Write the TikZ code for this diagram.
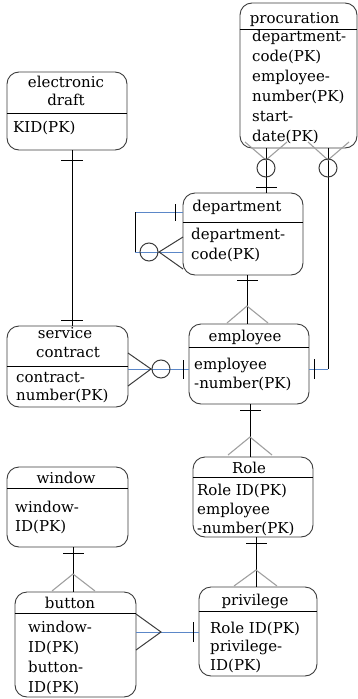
\documentclass[tikz,border=0pt]{standalone}
\usepackage{fontspec}
\setmainfont{DejaVu Serif}
\newfontfamily\erfamily{DejaVu Serif}
\newcommand\erfont{\erfamily\fontsize{15}{20}\selectfont}
\definecolor{boxgray}{HTML}{3C3C3C}
\definecolor{footgray}{HTML}{A0A0A0}
\definecolor{linkblue}{HTML}{5B87C8}

% entity box: name, x1, y1, x2, y2, y of the header rule
\newcommand\erbox[6]{%
  \node[entity, minimum width={#4-#2}, minimum height={#5-#3}] (#1) at ({(#2+#4)/2},{(#3+#5)/2}) {};
  \draw[hline] (#1.west |- 0,#6) -- (#1.east |- 0,#6);
}
% attribute lines: name, x, first baseline, line step, list
\newcommand\erattrs[5]{%
  \foreach \t [count=\i from 0] in {#5}
    \node[attr] (#1-a\i) at (#2,{#3+#4*\i}) {\t};
}

\begin{document}
\begin{tikzpicture}[x=1pt,y=-1pt,
  entity/.style={draw=boxgray, line width=0.9pt, rounded corners=12pt, inner sep=0pt},
  hline/.style={draw=black, line width=0.9pt},
  txt/.style={font=\erfont, inner sep=0pt},
  head/.style={txt, anchor=base},
  attr/.style={txt, anchor=base west},
  conn/.style={draw=black, line width=0.9pt},
  link/.style={draw=linkblue, line width=1pt},
  foot/.style={draw=footgray, line width=1.1pt},
  darkfoot/.style={draw=boxgray, line width=1pt},
  opt/.style={draw=boxgray, line width=1pt}
]
\useasboundingbox (0,0) rectangle (358,699);

% ---------- entities ----------
\erbox{proc}{240}{3}{357}{148}{29}
\node[head] (proc-h) at (294.5,23) {procuration};
\erattrs{proc}{252}{41}{20}{department-,code(PK),employee-,number(PK),start-,date(PK)}

\erbox{edraft}{7}{72}{127}{150}{113}
\node[head] (edraft-h1) at (66,87) {electronic};
\node[head] (edraft-h2) at (66,105) {draft};
\erattrs{edraft}{13}{132}{20}{KID(PK)}

\erbox{dept}{183}{193}{303}{275}{222}
\node[head] (dept-h) at (237,211) {department};
\erattrs{dept}{191}{239}{20.5}{department-,code(PK)}

\erbox{sc}{7}{326}{128}{407}{366}
\node[head] (sc-h1) at (65,338) {service};
\node[head] (sc-h2) at (68,357) {contract};
\erattrs{sc}{16}{382}{18.5}{contract-,number(PK)}

\erbox{emp}{189}{324}{309}{404}{347}
\node[head] (emp-h) at (245,341) {employee};
\erattrs{emp}{194}{369}{19}{employee,-number(PK)}

\erbox{role}{193}{457}{313}{537}{477}
\node[head] (role-h) at (249,473) {Role};
\erattrs{role}{197}{495}{19}{Role ID(PK),employee,-number(PK)}

\erbox{win}{7}{467}{128}{547}{488}
\node[head] (win-h) at (66,483) {window};
\erattrs{win}{15}{512}{19}{window-,ID(PK)}

\erbox{btn}{15}{592}{136}{697}{613}
\node[head] (btn-h) at (70,608) {button};
\erattrs{btn}{28}{632}{20}{window-,ID(PK),button-,ID(PK)}

\erbox{priv}{199}{587}{317}{676}{611}
\node[head] (priv-h) at (255,605) {privilege};
\erattrs{priv}{210}{633}{18.5}{Role ID(PK),privilege-,ID(PK)}

% ---------- relationships ----------
% procuration -- department
\draw[conn] (proc.south -| 266,0) -- (dept.north -| 266,0);
\draw[foot] (245,142) -- (266,160) -- (287,142);
\draw[opt] (266,168) circle (9);
\draw[conn] (256,187) -- (277,187);

% procuration -- employee
\draw[conn] (proc.south -| 328,0) -- (328,369);
\draw[link] (328,369) -- (emp.east |- 0,369);
\draw[foot] (308,142) -- (328,160) -- (349,142);
\draw[opt] (328,168) circle (9);
\draw[conn] (314,359) -- (314,379);

% electronic draft -- service contract
\draw[conn] (edraft.south -| 72,0) -- (sc.north -| 72,0);
\draw[conn] (61,160) -- (83,160);
\draw[conn] (61,320) -- (83,320);

% department -- department
\draw[link] (dept.west |- 0,212) -- (135,212);
\draw[conn] (135,212) -- (135,252);
\draw[link] (135,252) -- (dept.west |- 0,252);
\draw[conn] (175,204) -- (175,221);
\draw[darkfoot] (183,237) -- (159,252) -- (183,269);
\draw[opt] (149,252) circle (9);

% department -- employee
\draw[conn] (dept.south -| 247,0) -- (emp.north -| 247,0);
\draw[conn] (237,280) -- (258,280);
\draw[foot] (227,323) -- (247,306) -- (268,323);

% service contract -- employee
\draw[link] (sc.east |- 0,369) -- (emp.west |- 0,369);
\draw[darkfoot] (128,353) -- (151,369) -- (128,386);
\draw[opt] (161,369) circle (9);
\draw[conn] (183,360) -- (183,379);

% employee -- Role
\draw[conn] (emp.south -| 250,0) -- (role.north -| 250,0);
\draw[conn] (240,410) -- (261,410);
\draw[foot] (228,455) -- (250,437) -- (272,455);

% Role -- privilege
\draw[conn] (role.south -| 256,0) -- (priv.north -| 256,0);
\draw[conn] (246,543) -- (267,543);
\draw[foot] (234,586) -- (256,570) -- (277,586);

% window -- button
\draw[conn] (win.south -| 73,0) -- (btn.north -| 73,0);
\draw[conn] (63,553) -- (84,553);
\draw[foot] (52,591) -- (73,574) -- (95,591);

% button -- privilege
\draw[link] (btn.east |- 0,632) -- (priv.west |- 0,632);
\draw[darkfoot] (136,614) -- (161,632) -- (136,650);
\draw[conn] (193,622) -- (193,642);
\end{tikzpicture}
\end{document}
